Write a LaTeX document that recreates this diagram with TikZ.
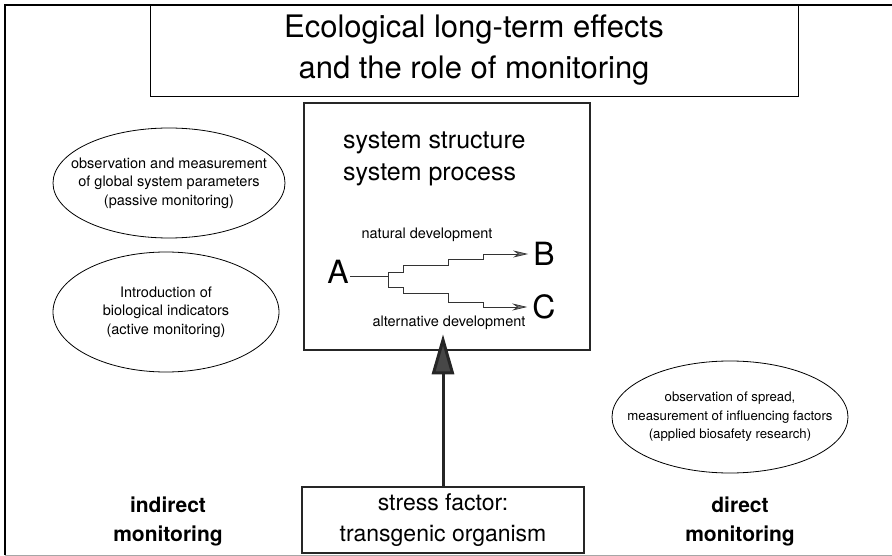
\documentclass[tikz,border=0pt]{standalone}
\usepackage{fontspec}
\setmainfont{TeX Gyre Heros}
\usetikzlibrary{arrows.meta}

\begin{document}
\begin{tikzpicture}[x=1pt,y=-1pt,
    montext/.style={align=center,inner sep=0pt,font=\fontsize{14.5}{18.5}\selectfont},
    monring/.style={draw,line width=0.8pt},
    heavybox/.style={rectangle,draw=black!85,line width=2.6pt,inner sep=0pt},
    sidelabel/.style={align=center,font=\bfseries\fontsize{21}{29}\selectfont},
    devline/.style={black!80,line width=0.7pt},
    devarrow/.style={devline,shorten >=4pt,-{Stealth[length=15pt,width=7pt,fill=black!55]}},
    bigarrow/.style={black!85,line width=3pt,-{Triangle[length=40pt,width=22pt,fill=black!72]}},
  ]
  \useasboundingbox (0,0) rectangle (892,556);
  % frame
  \draw[line width=1.6pt] (5,555) -- (5,5) -- (892,5);
  \draw[black!35,line width=0.8pt] (5,555) -- (892,555);

  \node (title) [draw,line width=0.9pt,minimum width=648pt,minimum height=91pt,align=center,
      font=\fontsize{31}{41}\selectfont] at (474,50.5)
      {Ecological long-term effects\\and the role of monitoring};

  % system box
  \node (main) [heavybox,minimum width=286pt,minimum height=247pt] at (447,226.5) {};
  \node (sys) [anchor=west,align=left,inner sep=0pt,font=\fontsize{25}{32}\selectfont]
      at (343,159) {system structure\\system process};
  \node (natural) [montext] at (427,235) {natural development};
  \node (alternative) [montext] at (449,323) {alternative development};
  \node (A) [inner sep=1pt,font=\fontsize{32}{32}\selectfont] at (338,272) {A};
  \node (B) [inner sep=1pt,font=\fontsize{32}{32}\selectfont] at (544,254) {B};
  \node (C) [inner sep=1pt,font=\fontsize{32}{32}\selectfont] at (544,307) {C};
  \coordinate (fork) at (388,276);
  \draw[devline] (A.east |- fork) -- (fork);
  \draw[devarrow] (fork) -- ++(0,-4) -- ++(15,0) -- ++(0,-7) -- ++(45,0)
      -- ++(0,-6) -- ++(35,0) -- ++(0,-5) -- (B.west);
  \draw[devarrow] (fork) -- ++(0,11) -- ++(15,0) -- ++(0,6) -- ++(45,0)
      -- ++(0,9) -- ++(35,0) -- ++(0,5) -- (C.west);

  % monitoring approaches
  \node (passive) [montext] at (169,183)
      {observation and measurement\\of global system parameters\\(passive monitoring)};
  \draw[monring] (passive.center) ellipse [x radius=116pt,y radius=55pt];
  \node (active) [montext] at (166,312)
      {Introduction of\\biological indicators\\(active monitoring)};
  \draw[monring] (active.center) ellipse [x radius=113pt,y radius=60pt];
  \node (applied) [montext,font=\fontsize{13.2}{18.5}\selectfont] at (730,417)
      {observation of spread,\\measurement of influencing factors\\(applied biosafety research)};
  \draw[monring] (applied.center) ellipse [x radius=118pt,y radius=56pt];

  \node (stress) [heavybox,minimum width=282pt,minimum height=66pt,align=center,
      font=\fontsize{23}{31}\selectfont] at (443,520) {stress factor:\\transgenic organism};
  \draw[bigarrow] (stress.north) -- ([yshift=17pt]stress.north |- main.south);

  \node (indirect) [sidelabel] at (168,521) {indirect\\monitoring};
  \node (direct) [sidelabel] at (740,521) {direct\\monitoring};
\end{tikzpicture}
\end{document}
